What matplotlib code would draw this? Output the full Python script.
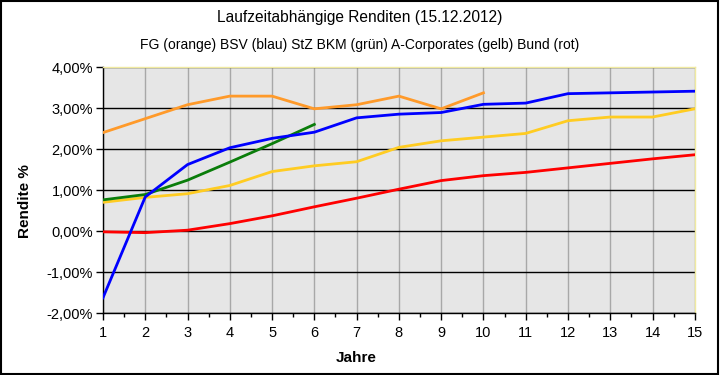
import matplotlib
matplotlib.use("Agg")
import matplotlib.pyplot as plt
from matplotlib.ticker import MultipleLocator, FuncFormatter
from matplotlib.patches import Rectangle

plt.rcParams['font.family'] = ['Liberation Sans', 'DejaVu Sans']

years_fg = [1, 2, 3, 4, 5, 6, 7, 8, 9, 10]
fg = [2.40, 2.74, 3.08, 3.29, 3.29, 2.98, 3.08, 3.29, 2.98, 3.37]

years_bsv = list(range(1, 16))
bsv = [-1.63, 0.83, 1.62, 2.03, 2.26, 2.41, 2.76, 2.85, 2.89, 3.09, 3.12, 3.35, 3.37, 3.39, 3.41]

years_stz = [1, 2, 3, 4, 5, 6]
stz = [0.76, 0.89, 1.24, 1.68, 2.13, 2.60]

years_corp = list(range(1, 16))
corp = [0.70, 0.82, 0.91, 1.11, 1.45, 1.59, 1.69, 2.04, 2.20, 2.29, 2.38, 2.69, 2.78, 2.78, 2.98]

years_bund = list(range(1, 16))
bund = [-0.02, -0.04, 0.02, 0.18, 0.37, 0.59, 0.80, 1.02, 1.23, 1.35, 1.43, 1.54, 1.65, 1.76, 1.86]

fig = plt.figure(figsize=(7.2, 3.75), dpi=100)
ax = fig.add_axes([0.143, 0.1653, 0.822, 0.656])
ax.set_facecolor('#e6e6e6')

lw = 2.0
ax.plot(years_corp, corp, color='#ffcc22', lw=lw, zorder=3)
ax.plot(years_bund, bund, color='#ff0000', lw=lw, zorder=3)
ax.plot(years_stz, stz, color='#0a7d0a', lw=lw, zorder=4)
ax.plot(years_fg, fg, color='#ff9a2a', lw=lw, zorder=3)
ax.plot(years_bsv, bsv, color='#0000ff', lw=lw, zorder=5)

ax.set_xlim(1, 15)
ax.set_ylim(-2, 4)
ax.xaxis.set_major_locator(MultipleLocator(1))
ax.xaxis.set_minor_locator(MultipleLocator(0.5))
ax.yaxis.set_major_locator(MultipleLocator(1))
ax.yaxis.set_major_formatter(FuncFormatter(lambda v, p: ('%.2f%%' % v).replace('.', ',')))

ax.grid(axis='y', which='major', color='black', lw=1.0, zorder=1)
ax.grid(axis='x', which='major', color='#a8a8a8', lw=1.0, zorder=1)
ax.set_axisbelow(True)

ax.tick_params(axis='both', which='major', direction='out', length=5, width=1, labelsize=10.5, colors='black')
ax.tick_params(axis='x', which='minor', direction='out', length=3, width=1)
ax.tick_params(axis='x', pad=4)
ax.tick_params(axis='y', pad=2)

for s in ['left', 'bottom']:
    ax.spines[s].set_color('black')
    ax.spines[s].set_linewidth(1.0)
for s in ['top', 'right']:
    ax.spines[s].set_color('#f0eaa0')
    ax.spines[s].set_linewidth(1.0)

ax.set_xlabel('Jahre', fontsize=11, fontweight='bold', labelpad=8)
ax.xaxis.set_label_coords(0.427, -0.155)
ax.set_ylabel('Rendite %', fontsize=11, fontweight='bold')
ax.yaxis.set_label_coords(-0.12, 0.455)

fig.text(0.5, 0.953, 'Laufzeitabhängige Renditen (15.12.2012)', ha='center', va='center', fontsize=11.2)
fig.text(0.5, 0.880, 'FG (orange) BSV (blau) StZ BKM (grün) A-Corporates (gelb) Bund (rot)', ha='center', va='center', fontsize=10)

fig.patches.append(Rectangle((0.001, 0.003), 0.996, 0.995, transform=fig.transFigure,
                             fill=False, edgecolor='black', lw=1.5))

fig.savefig('out.png', dpi=100)
